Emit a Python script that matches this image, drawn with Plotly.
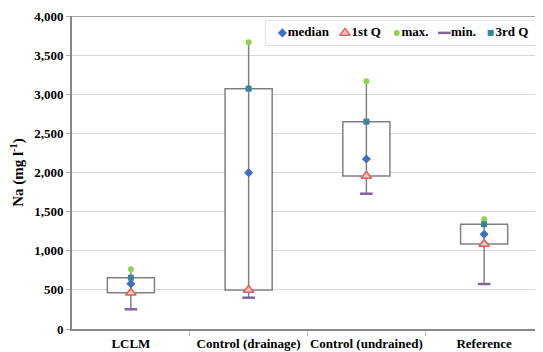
import plotly.graph_objects as go

categories = ["LCLM", "Control (drainage)", "Control (undrained)", "Reference"]
mins = [252, 400, 1729, 575]
q1 = [464, 498, 1955, 1086]
medians = [579, 1998, 2173, 1210]
q3 = [656, 3071, 2650, 1338]
maxs = [763, 3664, 3165, 1401]
y_ticks = [0, 500, 1000, 1500, 2000, 2500, 3000, 3500, 4000]
legend_names = ["median", "1st Q", "max.", "min.", "3rd Q"]

xs = list(range(len(categories)))
FONT = "Liberation Serif"

# marker styles per series (also used for the legend)
styles = {
    "median": dict(symbol="diamond", size=7, color="#3F6FC0"),
    "1st Q": dict(symbol="triangle-up", size=9, color="#F4C7C3",
                  line=dict(color="#D9605A", width=1.5)),
    "max.": dict(symbol="circle", size=6, color="#92D050"),
    "min.": dict(symbol="line-ew", size=9, line=dict(color="#8064A2", width=2.5)),
    "3rd Q": dict(symbol="square", size=6, color="#31859C"),
}
series = {"median": medians, "1st Q": q1, "max.": maxs, "min.": mins, "3rd Q": q3}

fig = go.Figure()

# boxes (Q1 to Q3)
fig.add_trace(go.Bar(
    x=xs, y=[b - a for a, b in zip(q1, q3)], base=q1, width=0.4,
    marker=dict(color="white", line=dict(color="#808080", width=1.5)),
    showlegend=False, hoverinfo="skip"))

# whiskers min..max
wx, wy = [], []
for x, lo, hi in zip(xs, mins, maxs):
    wx += [x, x, None]
    wy += [lo, hi, None]
fig.add_trace(go.Scatter(x=wx, y=wy, mode="lines",
                         line=dict(color="#808080", width=1.5),
                         showlegend=False, hoverinfo="skip"))

for name in legend_names:
    fig.add_trace(go.Scatter(x=xs, y=series[name], mode="markers", name=name,
                             marker=styles[name], showlegend=False))

# custom compact legend drawn on an overlay axis (x positions in legend-box units)
leg_marker_x = [0.06, 0.29, 0.48, 0.655, 0.825]
for name, lx in zip(legend_names, leg_marker_x):
    fig.add_trace(go.Scatter(
        x=[lx], y=[0.5], xaxis="x2", yaxis="y2", mode="markers+text",
        marker=styles[name], text=["<b>%s</b>" % name], textposition="middle right",
        textfont=dict(family=FONT, size=13, color="black"),
        showlegend=False, hoverinfo="skip", cliponaxis=False))

fig.update_layout(
    width=535, height=344,
    margin=dict(l=64, r=0, t=8, b=23, autoexpand=False),
    plot_bgcolor="white", paper_bgcolor="white",
    font=dict(family=FONT, size=13, color="black"),
    barmode="overlay",
    showlegend=False,
    xaxis=dict(range=[-0.5, 3.5], tickmode="array", tickvals=xs,
               ticktext=["<b>%s</b>" % c for c in categories],
               ticks="outside", ticklen=1, tickcolor="rgba(0,0,0,0)",
               showgrid=False, zeroline=False, automargin=False,
               showline=True, linecolor="#888888", linewidth=2,
               tickfont=dict(family=FONT, size=13, color="black"),
               minor=dict(tickmode="array", tickvals=[0.5, 1.5, 2.5], ticks="outside",
                          ticklen=5, tickcolor="#BBBBBB", showgrid=False)),
    yaxis=dict(range=[0, 4000], tickmode="array", tickvals=y_ticks,
               ticktext=["<b>%s</b>" % f"{v:,}" for v in y_ticks],
               ticks="outside", ticklen=4, tickcolor="#AAAAAA",
               showgrid=True, gridcolor="#D9D9D9", gridwidth=1, automargin=False,
               zeroline=False, showline=True, linecolor="#888888", linewidth=2,
               tickfont=dict(family=FONT, size=13, color="black"),
               title=dict(text="<b>Na (mg l<sup>-1</sup>)</b>", standoff=8,
                          font=dict(family=FONT, size=15, color="black"))),
    xaxis2=dict(domain=[0.412, 0.99], range=[0, 1], visible=False, fixedrange=True),
    yaxis2=dict(domain=[0.906, 0.986], range=[0, 1], visible=False, fixedrange=True,
                anchor="x2"),
)

# legend frame
fig.add_shape(type="rect", xref="x2 domain", yref="y2 domain", x0=0, x1=1, y0=0, y1=1,
              line=dict(color="#BFBFBF", width=1), fillcolor="white", layer="below")
# top border line of plot area
fig.add_shape(type="line", xref="paper", yref="y", x0=0, x1=1, y0=4000, y1=4000,
              line=dict(color="#888888", width=1.5))

fig.write_html("out.html")
